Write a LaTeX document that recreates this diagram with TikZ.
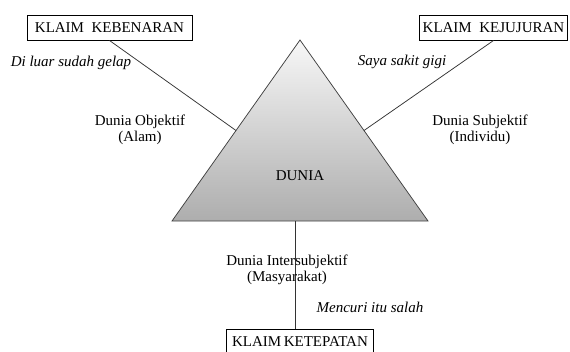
\documentclass[tikz,border=0pt]{standalone}
\usepackage{fontspec}
\setmainfont{Liberation Serif}
\usetikzlibrary{calc}

\begin{document}
\begin{tikzpicture}[x=0.8pt,y=-0.8pt,line width=0.6pt,
  klaim/.style={draw,line width=0.8pt,minimum height=20pt,inner xsep=2pt,
    font=\fontsize{12}{14}\selectfont},
  lbl/.style={align=center,font=\fontsize{12}{12.5}\selectfont},
  contoh/.style={font=\fontsize{12}{14}\selectfont\itshape}]
\useasboundingbox (0,0) rectangle (570,352);
% ---- dunia ----
\coordinate (apex) at (300,40);
\coordinate (bl) at (172,221);
\coordinate (br) at (428,221);
\shade[top color=black!3,bottom color=black!32,draw=black!75]
  (apex) -- (br) -- (bl) -- cycle;
\node[font=\fontsize{12}{14}\selectfont] (dunia) at (300,176) {DUNIA};
\coordinate (objpt) at ($(apex)!0.5!(bl)$);
\coordinate (subpt) at ($(apex)!0.5!(br)$);
\coordinate (interpt) at ($(bl)!0.48!(br)$);
% ---- klaim ----
\node[klaim,minimum width=132pt] (benar) at (109.5,27.5) {KLAIM\ \ KEBENARAN};
\node[klaim,minimum width=119pt] (jujur) at (493.5,27.5) {KLAIM\ \ KEJUJURAN};
\node[klaim,minimum width=118pt] (tepat) at (300,341.5) {KLAIM\,KETEPATAN};
\draw[black!80] (benar.south) -- (objpt);
\draw[black!80] (jujur.south) -- (subpt);
\draw[black!80] (interpt) -- (interpt |- tepat.north);
% ---- label ----
\node[lbl] (obj) at (140,130) {Dunia Objektif\\(Alam)};
\node[lbl] (sub) at (480,130) {Dunia Subjektif\\(Individu)};
\node[lbl] (inter) at (287,270) {Dunia Intersubjektif\\(Masyarakat)};
\node[contoh] (gelap) at (71,63) {Di luar sudah gelap};
\node[contoh] (gigi) at (402,62) {Saya sakit gigi};
\node[contoh] (curi) at (370,307) {Mencuri itu salah};
\end{tikzpicture}
\end{document}
